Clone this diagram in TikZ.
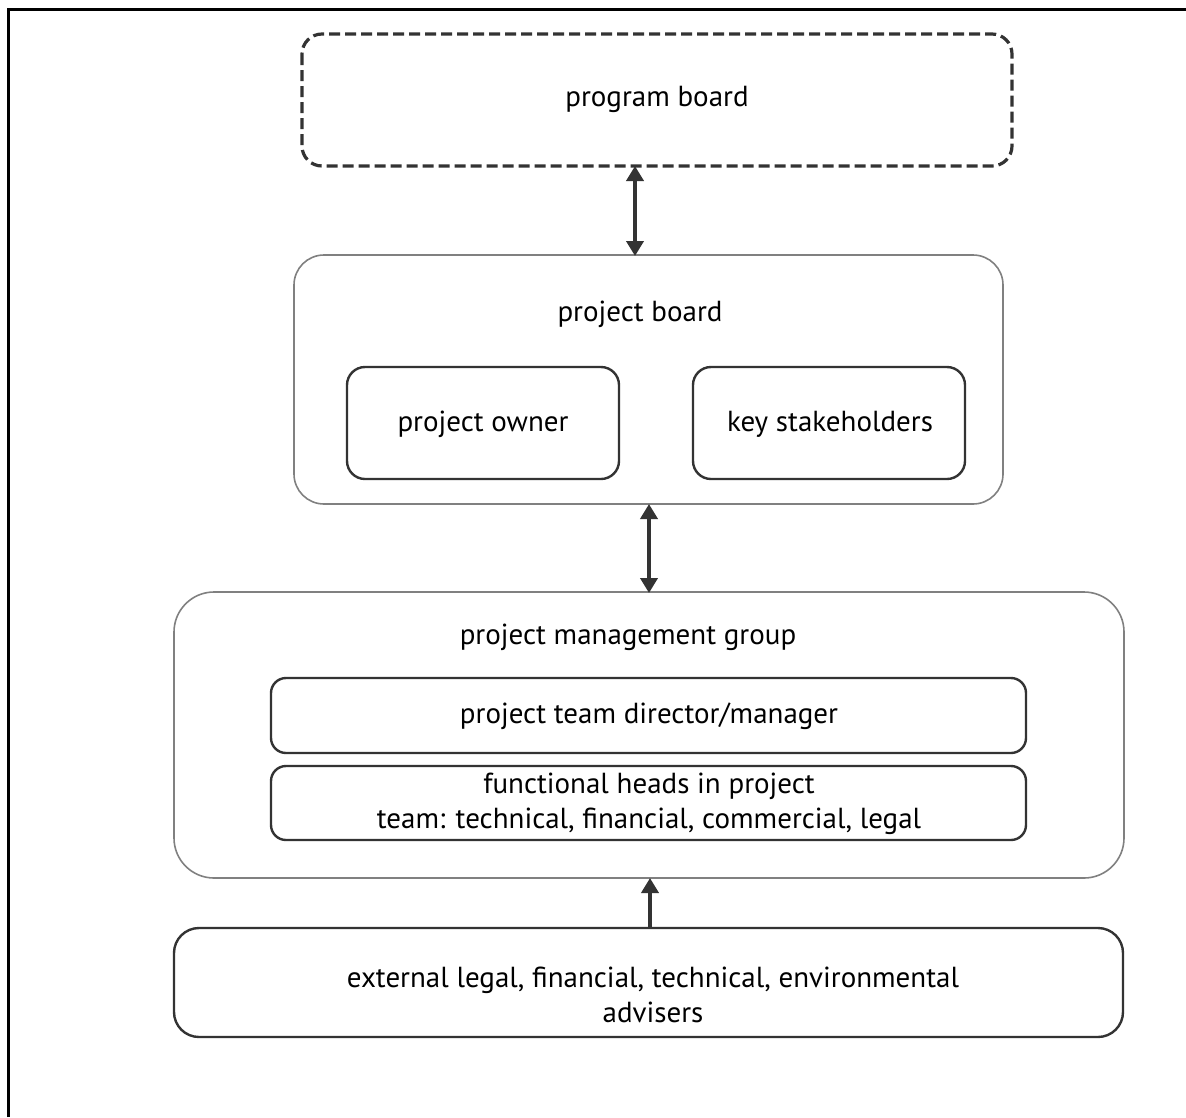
\documentclass[tikz,border=0pt]{standalone}
\usepackage{fontspec}
\setmainfont{PT Sans}
\usetikzlibrary{arrows.meta}
\tikzset{
  frameline/.style={line width=3pt, black},
  outerbox/.style={draw=black!50, line width=1.6pt, rounded corners=30pt},
  innerbox/.style={draw=black!80, line width=2.4pt, rounded corners=18pt},
  dashbox/.style={draw=black!80, line width=3.2pt, rounded corners=20pt, dash pattern=on 11pt off 5pt},
  linkarrow/.style={draw=black!80, line width=4pt, -{Triangle[length=15pt,width=17pt]}},
  twoway/.style={draw=black!80, line width=4pt, {Triangle[length=15pt,width=17pt]}-{Triangle[length=15pt,width=17pt]}},
  lbl/.style={font=\fontsize{29}{35}\selectfont, align=center, inner sep=0pt}
}
\begin{document}
\begin{tikzpicture}[x=1pt,y=-1pt]
\useasboundingbox (0,0) rectangle (1186,1117);
% partial page frame (top and left edges)
\draw[frameline] (8,1117) -- (8,9) -- (1186,9);

% program board
\draw[dashbox] (302,34) rectangle (1012,166);
\node[lbl] (prog) at (657,99) {program board};
\coordinate (progB) at (635,166);

% project board
\draw[outerbox] (294,255) rectangle (1003,504);
\node[lbl] (pb) at (640,314) {project board};
\coordinate (pbT) at (635,256);
\coordinate (pbB) at (649,504);
\draw[innerbox] (347,367) rectangle (619,479);
\node[lbl] (owner) at (483,424) {project owner};
\draw[innerbox] (693,367) rectangle (965,479);
\node[lbl] (stake) at (830,424) {key stakeholders};

% project management group
\draw[outerbox, rounded corners=40pt] (174,592) rectangle (1124,878);
\node[lbl] (pmg) at (628,637) {project management group};
\coordinate (pmgT) at (649,593);
\coordinate (pmgB) at (650,878);
\draw[innerbox, rounded corners=15pt] (271,678) rectangle (1026,753);
\node[lbl] (dir) at (649,716) {project team director/manager};
\draw[innerbox, rounded corners=15pt] (271,766) rectangle (1026,840);
\node[lbl] (heads) at (649,804) {functional heads in project\\team: technical, financial, commercial, legal};

% external advisers
\draw[innerbox, rounded corners=25pt] (174,928) rectangle (1123,1037);
\node[lbl] (ext) at (653,995) {external legal, financial, technical, environmental\\advisers};
\coordinate (extT) at (650,928);

% connectors
\draw[twoway] (progB) -- (pbT);
\draw[twoway] (pbB) -- (pmgT);
\draw[linkarrow] (extT) -- (pmgB);
\end{tikzpicture}
\end{document}
